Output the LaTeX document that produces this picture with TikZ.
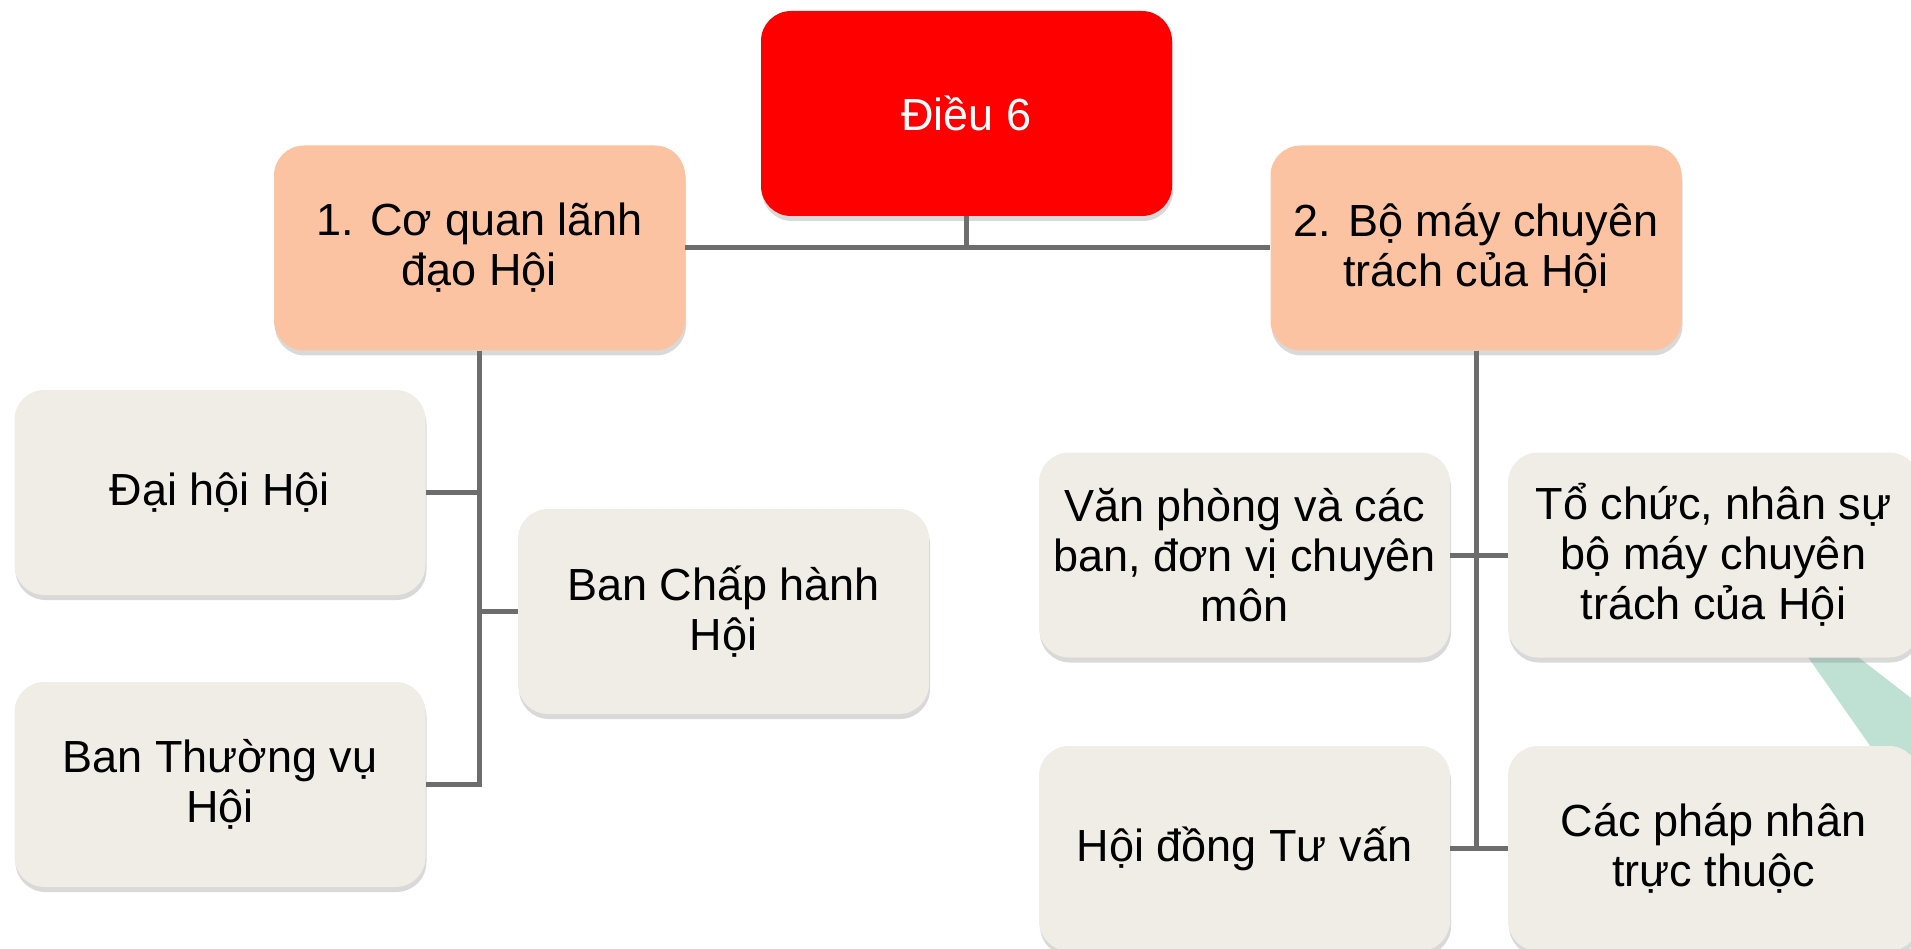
\documentclass[tikz,border=0pt]{standalone}
\usepackage{fontspec}
\setmainfont{Liberation Sans}
\usetikzlibrary{shadows}

\definecolor{dieured}{HTML}{FF0000}
\definecolor{peach}{HTML}{FBC3A2}
\definecolor{paper}{HTML}{F0ECE6}
\definecolor{linkgray}{HTML}{6D6D6D}
\definecolor{seafoam}{HTML}{BFE1D3}

\tikzset{
	box/.style={rounded corners=30pt, minimum width=411pt, minimum height=205pt,
		align=center, font=\fontsize{45}{50}\selectfont, text=black,
		drop shadow={shadow xshift=1pt, shadow yshift=-5pt, opacity=0.3}},
	rootbox/.style={box, fill=dieured, text=white},
	headbox/.style={box, fill=peach},
	leafbox/.style={box, fill=paper},
	link/.style={draw=linkgray, line width=5pt}
}

\begin{document}
\begin{tikzpicture}[x=1pt, y=-1pt]
			%%%%% START %%%%%
			
			\useasboundingbox (0, 0) rectangle (1911, 949);
			\clip (0, 0) rectangle (1911, 949);
			
			\fill[seafoam] (1796, 640) -- (1836, 640) -- (1911, 698) -- (1911, 780) -- (1894, 780) -- cycle;
			
			\node[rootbox] (dieu) at (966.5, 113.5) {Điều 6};
			\node[headbox] (coquan) at (479.5, 248) {1. Cơ quan lãnh\\đạo Hội};
			\node[headbox] (bomay) at (1476, 248) {2. Bộ máy chuyên\\trách của Hội};
			
			\node[leafbox] (daihoi) at (220, 492.5) {Đại hội Hội};
			\node[leafbox] (chaphanh) at (723.5, 611.5) {Ban Chấp hành\\Hội};
			\node[leafbox] (thuongvu) at (220, 784.5) {Ban Thường vụ\\Hội};
			
			\node[leafbox] (vanphong) at (1244.5, 555) {Văn phòng và các\\ban, đơn vị chuyên\\môn};
			\node[leafbox] (tochuc) at (1713.5, 555) {Tổ chức, nhân sự\\bộ máy chuyên\\trách của Hội};
			\node[leafbox] (hoidong) at (1244.5, 848.5) {Hội đồng Tư vấn};
			\node[leafbox] (phapnhan) at (1713.5, 848.5) {Các pháp nhân\\trực thuộc};
			
			\draw[link] (coquan.east) -- (bomay.west);
			\draw[link] (dieu.south) -- (dieu.south |- coquan.east);
			
			\draw[link] (coquan.south) |- (thuongvu.east);
			\draw[link] (coquan.south) |- (daihoi.east);
			\draw[link] (coquan.south) |- (chaphanh.west);
			
			\draw[link] (bomay.south) |- (hoidong.east);
			\draw[link] (bomay.south) |- (vanphong.east);
			\draw[link] (bomay.south) |- (tochuc.west);
			\draw[link] (bomay.south) |- (phapnhan.west);
			
			%%%%% END %%%%%
\end{tikzpicture}
\end{document}
